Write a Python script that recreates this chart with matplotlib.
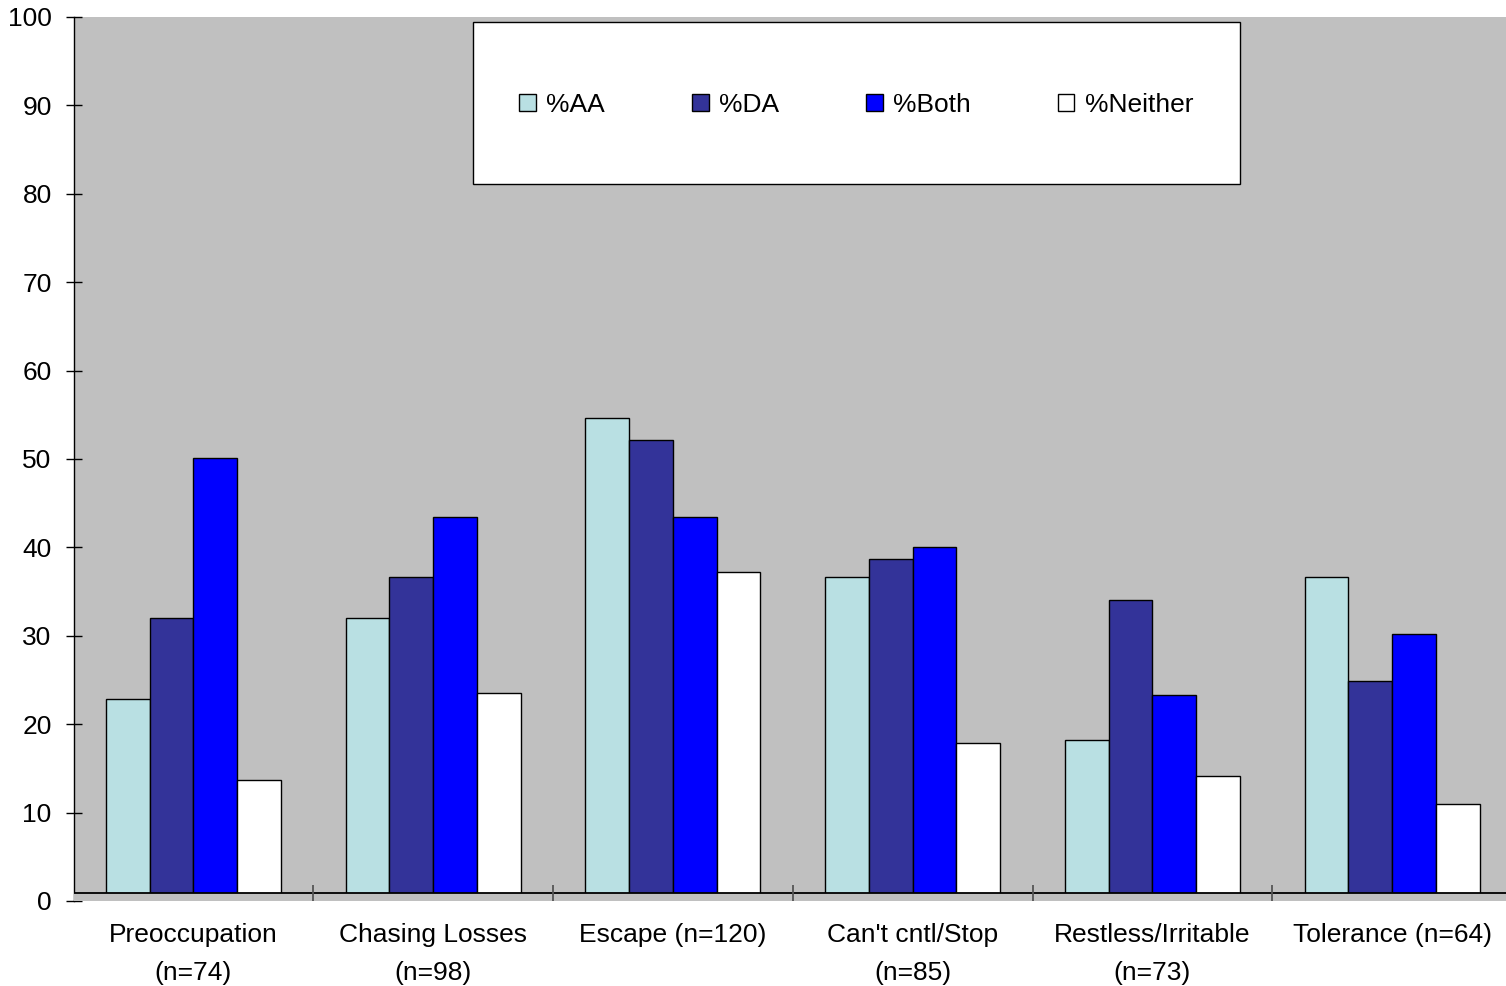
import matplotlib
matplotlib.use("Agg")
import matplotlib.pyplot as plt
from matplotlib.patches import Rectangle
import numpy as np

plt.rcParams['font.family'] = ['Liberation Sans', 'DejaVu Sans']

# data
categories = ["Preoccupation\n(n=74)", "Chasing Losses\n(n=98)", "Escape (n=120)",
              "Can't cntl/Stop\n(n=85)", "Restless/Irritable\n(n=73)", "Tolerance (n=64)"]
series_names = ["%AA", "%DA", "%Both", "%Neither"]
pct_aa = [22.9, 32.0, 54.6, 36.7, 18.2, 36.7]
pct_da = [32.0, 36.7, 52.1, 38.7, 34.0, 24.9]
pct_both = [50.1, 43.4, 43.4, 40.0, 23.3, 30.2]
pct_neither = [13.7, 23.5, 37.2, 17.9, 14.1, 11.0]
colors = ["#B9E0E3", "#333399", "#0000FF", "#FFFFFF"]

# axes box in pixels (the plot area runs a little past the right edge)
left_px, right_px, top_px, bot_px = 73.5, 1512, 17, 901
W, H = 1506, 986

fig = plt.figure(figsize=(W / 100, H / 100), dpi=100)
ax = fig.add_axes([left_px / W, 1 - bot_px / H, (right_px - left_px) / W, (bot_px - top_px) / H])
ax.set_facecolor("#C0C0C0")

x = np.arange(len(categories))
w = 0.1825
all_vals = [pct_aa, pct_da, pct_both, pct_neither]
handles = []
for i, (vals, name, col) in enumerate(zip(all_vals, series_names, colors)):
    b = ax.bar(x + (i - 1.5) * w, vals, width=w, color=col, edgecolor="black",
               linewidth=1.0, label=name, zorder=2)
    handles.append(b)

ax.set_xlim(-0.5, len(categories) - 0.5)
ax.set_ylim(0, 100)

# category axis sits just above zero, like the original
ax.axhspan(0, 0.9, color="#C0C0C0", zorder=3, lw=0)
ax.axhline(0.9, color="black", lw=1.3, zorder=4)
ax.vlines(np.arange(0.5, len(categories) - 0.5, 1), 0, 1.8, color="#555555", lw=1.3, zorder=5)

ax.set_yticks(np.arange(0, 101, 10))
ax.tick_params(axis="y", direction="inout", length=11.5, width=1.0, labelsize=19, pad=10)
ax.set_xticks(x)
ax.set_xticklabels(categories, fontsize=19, linespacing=1.75)
ax.tick_params(axis="x", length=0, pad=16)

for s in ["top", "right", "bottom"]:
    ax.spines[s].set_visible(False)
ax.spines["left"].set_linewidth(1.0)

# legend box
aw = right_px - left_px
ah = bot_px - top_px
x0 = (473 - left_px) / aw
x1 = (1240 - left_px) / aw
y1 = (bot_px - 22) / ah
y0 = (bot_px - 184) / ah
ax.add_patch(Rectangle((x0, y0), x1 - x0, y1 - y0, transform=ax.transAxes,
                       facecolor="white", edgecolor="black", lw=1.0, zorder=6))
leg = ax.legend(handles=handles, loc="center",
                bbox_to_anchor=((x0 + x1) / 2, (bot_px - 105) / ah),
                ncol=4, frameon=False, fontsize=19, handlelength=0.62, handleheight=0.62,
                handletextpad=0.4, columnspacing=3.3, borderaxespad=0)
leg.set_zorder(7)

fig.savefig("out.png", dpi=100)
